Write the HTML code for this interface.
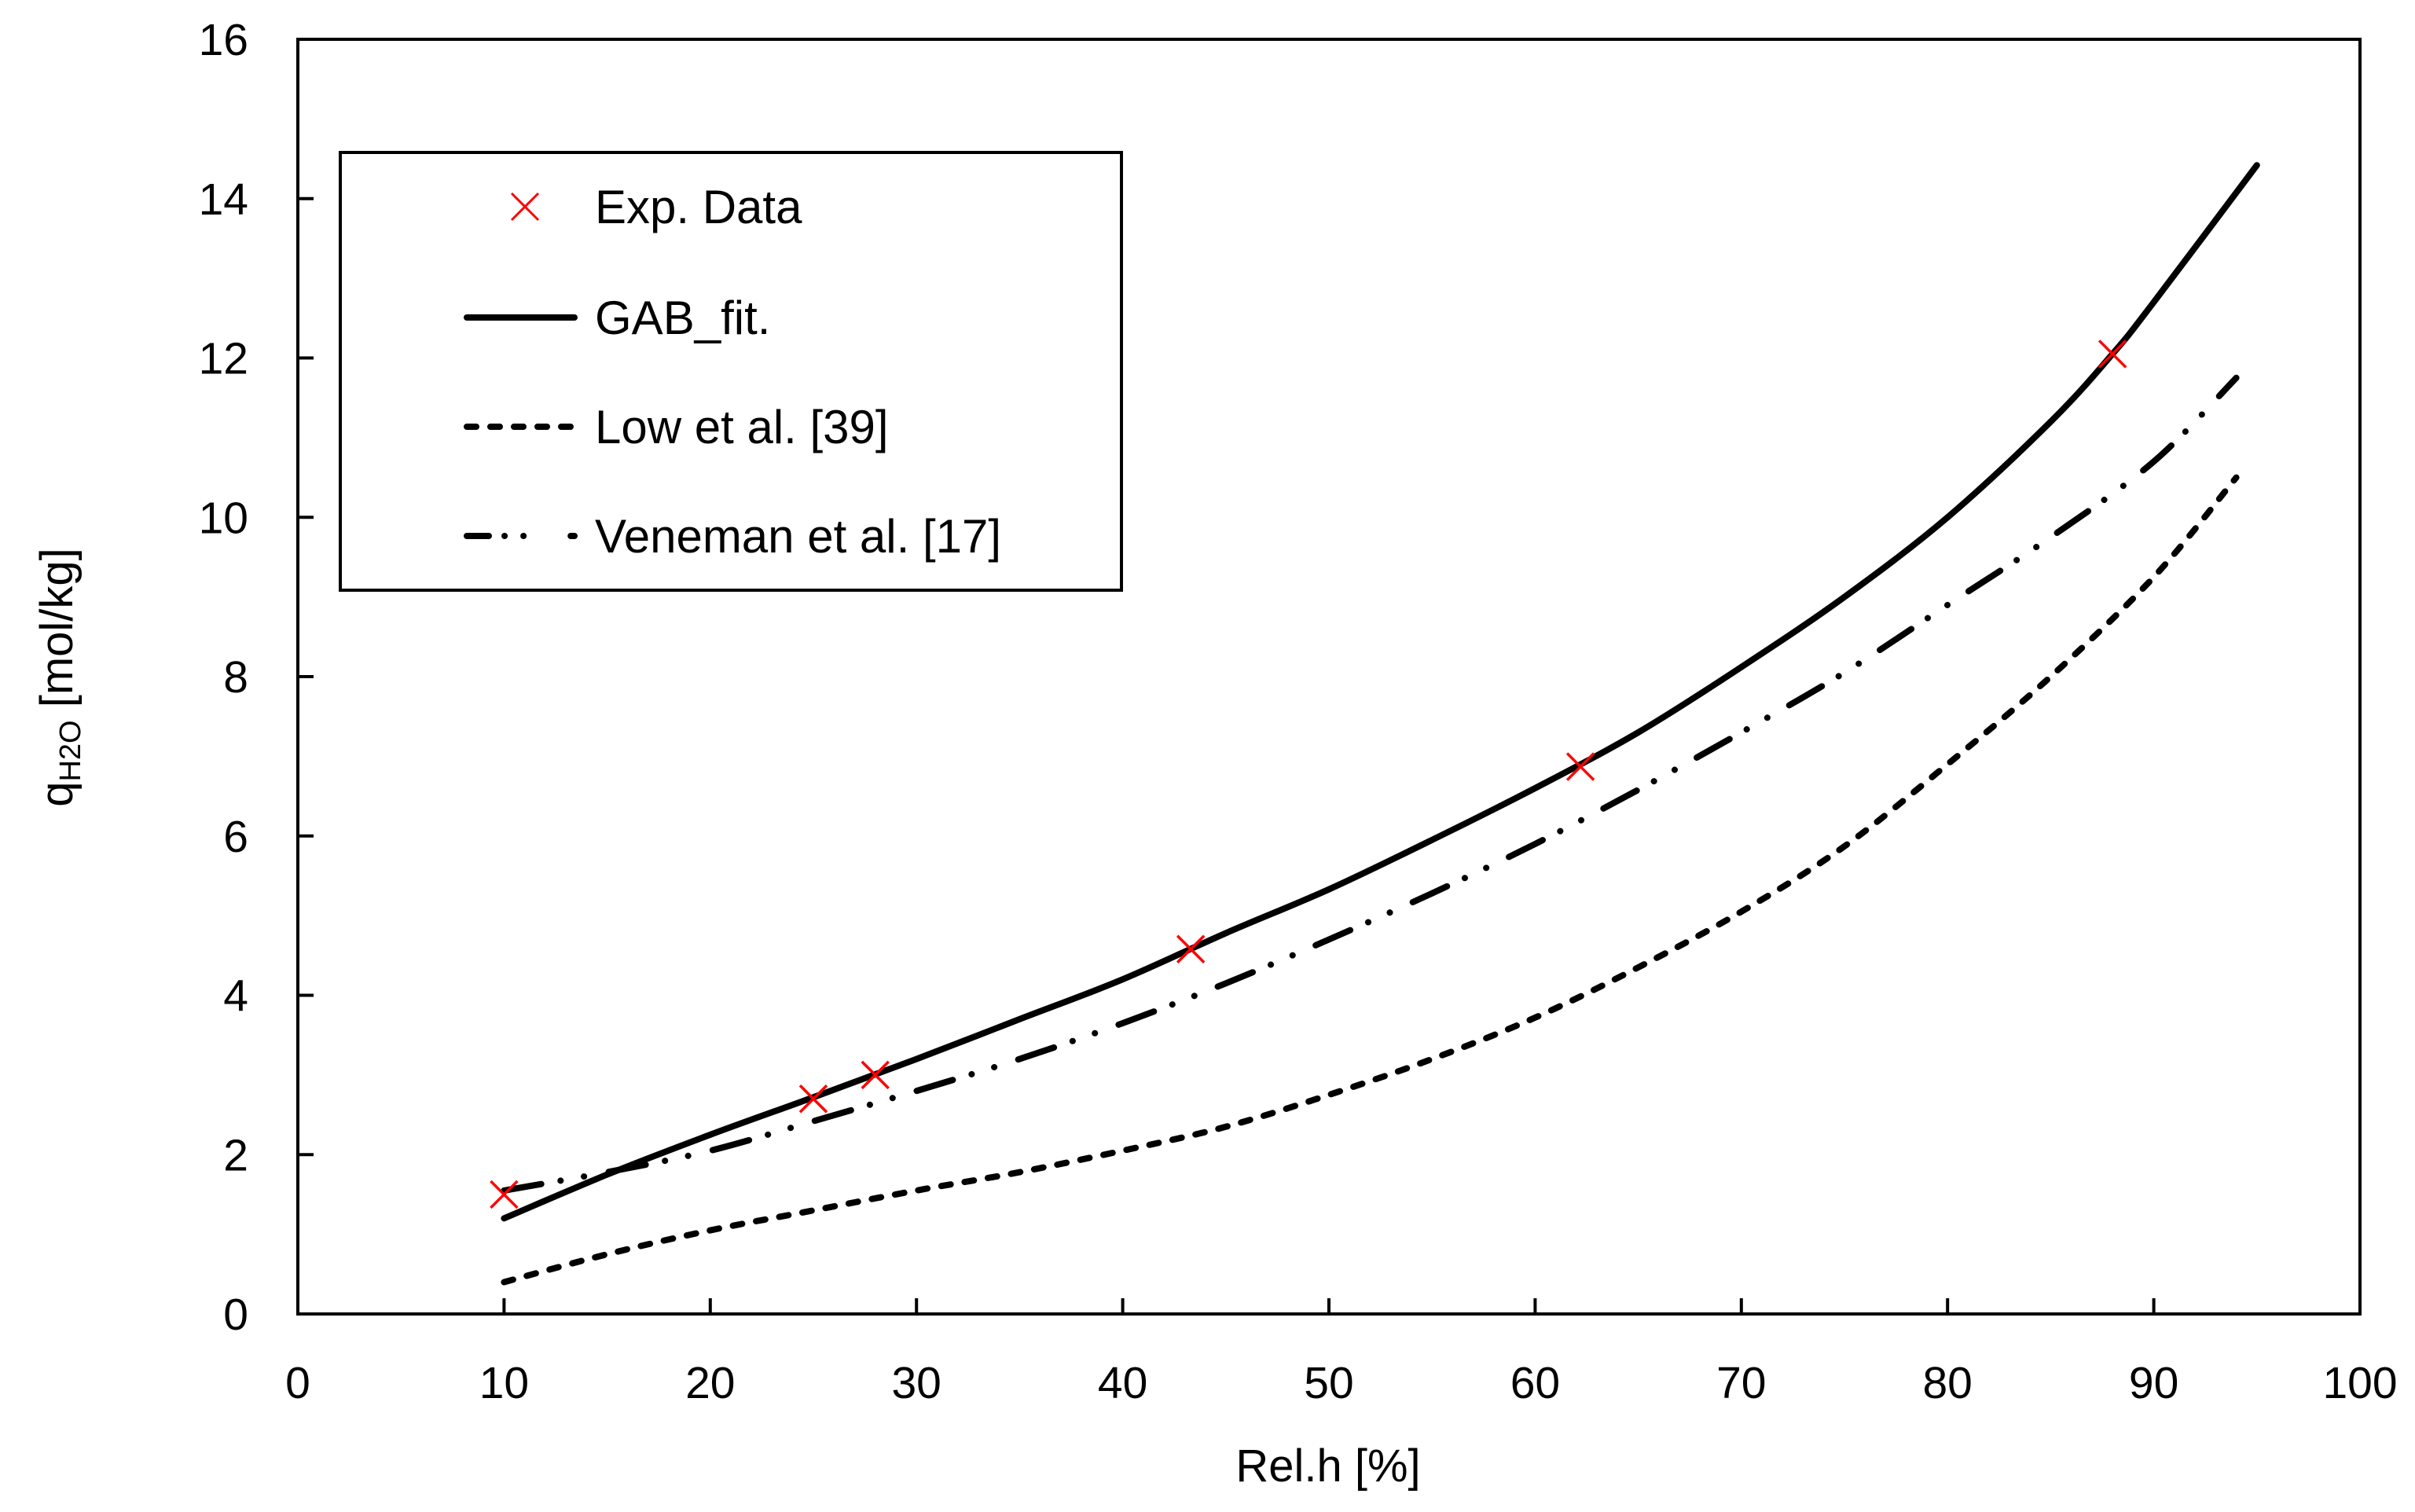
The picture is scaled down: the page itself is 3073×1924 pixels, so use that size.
<!DOCTYPE html>
<html><head><meta charset="utf-8"><style>
html,body{margin:0;padding:0;background:#fff;}
svg{display:block;font-family:"Liberation Sans",sans-serif;}
</style></head><body>
<svg id="chart" width="3073" height="1924" viewBox="0 0 3073 1924" xmlns="http://www.w3.org/2000/svg">
<g id="axes"></g>
<g id="series"></g>
<g id="legend">
<rect x="433" y="194" width="994" height="557" fill="#fff" stroke="#000" stroke-width="4"/>
<g>
<path d="M651 246 L685 280 M685 246 L651 280" stroke="#f00" stroke-width="3"/>
<text x="757" y="284" font-size="60">Exp. Data</text></g>
<g>
<line x1="594" y1="404" x2="731" y2="404" stroke="#000" stroke-width="8" stroke-linecap="round"/>
<text x="757" y="425" font-size="60">GAB_fit.</text></g>
<g>
<line x1="594" y1="543" x2="731" y2="543" stroke="#000" stroke-width="8" stroke-linecap="round" stroke-dasharray="12 18"/>
<text x="757" y="564" font-size="60">Low et al. [39]</text></g>
<g>
<line x1="594" y1="682" x2="731" y2="682" stroke="#000" stroke-width="8" stroke-linecap="round" stroke-dasharray="28 20 0.1 24 0.1 60"/>
<text x="757" y="703" font-size="60">Veneman et al. [17]</text></g>
</g>
<text transform="translate(92,862) rotate(-90)" text-anchor="middle" font-size="58">q<tspan font-size="38" dy="10">H2O</tspan><tspan dy="-10"> [mol/kg]</tspan></text>
<text x="1690" y="1885" text-anchor="middle" font-size="58">Rel.h [%]</text>
</svg>
<script>
const xTicks=[0,10,20,30,40,50,60,70,80,90,100];
const yTicks=[0,2,4,6,8,10,12,14,16];
const gabX=[10,15,20,25,30,35,40,45,50,55,60,65,70,75,80,85,88,90,95];
const gabY=[1.2,1.75,2.25,2.72,3.2,3.7,4.2,4.78,5.33,5.95,6.6,7.3,8.12,9.0,10.0,11.2,12.05,12.7,14.42];
const lowX=[10,15,20,25,30,35,40,45,50,55,60,65,70,75,80,85,90,94];
const lowY=[0.4,0.75,1.05,1.3,1.55,1.78,2.05,2.35,2.75,3.2,3.72,4.35,5.05,5.87,6.9,8.0,9.25,10.5];
const venX=[10,15,20,25,30,35,40,45,50,55,60,65,70,75,80,85,90,94];
const venY=[1.55,1.78,2.05,2.42,2.8,3.2,3.65,4.15,4.7,5.28,5.9,6.58,7.3,8.05,8.9,9.75,10.7,11.75];
const expX=[10,25,28,43.3,62.2,88];
const expY=[1.5,2.7,3.0,4.58,6.87,12.05];
const X0=379,X1=3003,Y0=1672,Y1=50;
function sx(v){return X0+(X1-X0)*v/100;}
function sy(v){return Y0-(Y0-Y1)*v/16;}
const NS="http://www.w3.org/2000/svg";
function mk(tag,attrs,parent){const e=document.createElementNS(NS,tag);for(const k in attrs)e.setAttribute(k,attrs[k]);parent.appendChild(e);return e;}
const axes=document.getElementById('axes');
const frame=mk('rect',{x:X0,y:Y1,width:X1-X0,height:Y0-Y1,fill:'none',stroke:'#000','stroke-width':4},axes);


xTicks.forEach(t=>{
  const l=mk('line',{x1:sx(t),x2:sx(t),y1:Y0,y2:Y0-20,stroke:'#000','stroke-width':4},axes);
  
  
  const tx=mk('text',{x:sx(t),y:1779,'text-anchor':'middle','font-size':57},axes);
  tx.textContent=t;
  
  
});
yTicks.forEach(t=>{
  const l=mk('line',{x1:X0,x2:X0+20,y1:sy(t),y2:sy(t),stroke:'#000','stroke-width':4},axes);
  
  
  const tx=mk('text',{x:316,y:sy(t)+20,'text-anchor':'end','font-size':57},axes);
  tx.textContent=t;
  
  
});
const series=document.getElementById('series');
function line(xs,ys,dash,name){
  const P=xs.map((x,i)=>[sx(x),sy(ys[i])]);
  let d='M'+P[0][0].toFixed(1)+' '+P[0][1].toFixed(1);
  for(let i=0;i<P.length-1;i++){
    const p0=P[Math.max(0,i-1)],p1=P[i],p2=P[i+1],p3=P[Math.min(P.length-1,i+2)];
    const c1=[p1[0]+(p2[0]-p0[0])/6,p1[1]+(p2[1]-p0[1])/6];
    const c2=[p2[0]-(p3[0]-p1[0])/6,p2[1]-(p3[1]-p1[1])/6];
    d+=' C'+c1[0].toFixed(1)+' '+c1[1].toFixed(1)+' '+c2[0].toFixed(1)+' '+c2[1].toFixed(1)+' '+p2[0].toFixed(1)+' '+p2[1].toFixed(1);
  }
  const p=mk('path',{d:d,fill:'none',stroke:'#000','stroke-width':8,'stroke-linecap':'round','stroke-linejoin':'round'},series);
  if(dash)p.setAttribute('stroke-dasharray',dash);
  
  
}
line(lowX,lowY,'12 18','low-line');
line(venX,venY,'48 25 0.1 30 0.1 32','veneman-line');
line(gabX,gabY,null,'gab-fit-line');
expX.forEach((x,i)=>{
  const cx=sx(x),cy=sy(expY[i]);
  const m=mk('path',{d:`M${cx-17} ${cy-17} L${cx+17} ${cy+17} M${cx+17} ${cy-17} L${cx-17} ${cy+17}`,stroke:'#f00','stroke-width':3.5,fill:'none'},series);
  
  
});
</script>
</body></html>
